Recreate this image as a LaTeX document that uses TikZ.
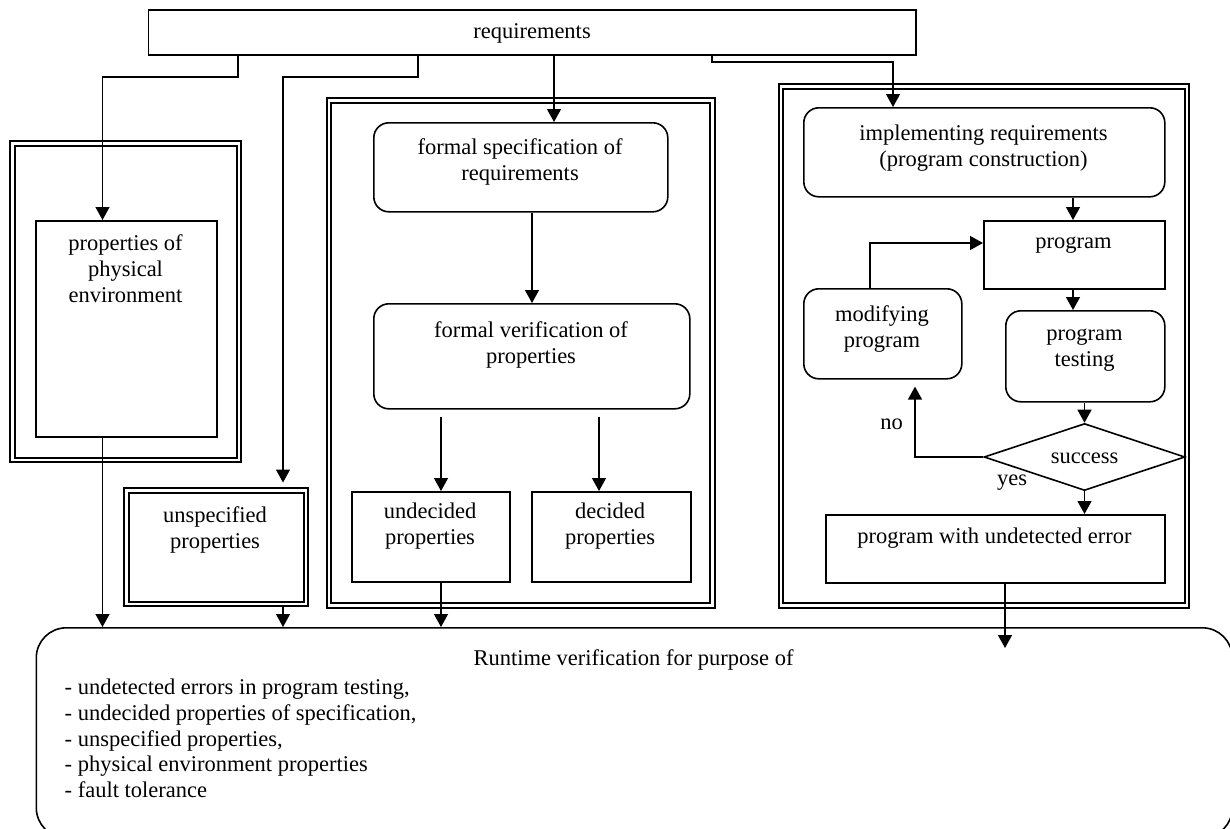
\documentclass[tikz,border=0pt]{standalone}
\usepackage{fontspec}
\setmainfont{Liberation Serif}
\usetikzlibrary{arrows.meta,shapes.geometric,calc}
\begin{document}
\begin{tikzpicture}[x=1pt,y=-1pt,
  every node/.style={font=\fontsize{22.5}{26}\selectfont},
  box/.style={draw,line width=1.6pt,inner sep=0pt,anchor=north west},
  rbox/.style={box,rounded corners=15pt},
  frame/.style={draw,line width=2pt,double=white,double distance=2.2pt,inner sep=0pt,anchor=north west},
  txt/.style={align=center,inner sep=0pt},
  conn/.style={line width=1.3pt},
  arr/.style={conn,-{Triangle[width=14pt,length=13pt]}},
]
\useasboundingbox (0,0) rectangle (1230,828);
\clip (0,0) rectangle (1230,828);

% source of all requirements
\node[box,minimum width=767.5,minimum height=45] (req) at (147.5,9) {};
\node[txt] at (532,33) {requirements};

% physical environment
\node[frame,minimum width=226.5,minimum height=316.5] (fl) at (11.5,142.5) {};
\node[box,minimum width=181,minimum height=216] (phys) at (35,220) {};
\node[txt] at (125.5,269) {properties of\\physical\\environment};

% unspecified properties
\node[frame,minimum width=179.5,minimum height=113.5] (uf) at (125.5,489.5) {};
\node[txt] at (215,530) {unspecified\\properties};

% formal specification and verification
\node[frame,minimum width=383.5,minimum height=505] (fm) at (328,99.5) {};
\node[rbox,minimum width=294,minimum height=89] (fspec) at (373,122) {};
\node[txt] at (520,162) {formal specification of\\requirements};
\node[rbox,minimum width=316,minimum height=105] (fver) at (373,303) {};
\node[txt] at (531,344.5) {formal verification of\\properties};
\node[box,minimum width=158,minimum height=90] (undec) at (351,491) {};
\node[txt] at (430,526.5) {undecided\\properties};
\node[box,minimum width=159,minimum height=90] (dec) at (531,491) {};
\node[txt] at (610,526.5) {decided\\properties};

% implementation and testing loop
\node[frame,minimum width=406,minimum height=519] (fr) at (780,85.5) {};
\node[rbox,minimum width=361,minimum height=89] (impl) at (803,107) {};
\node[txt] at (983.5,148.5) {implementing requirements\\(program construction)};
\node[box,minimum width=181,minimum height=68] (prog) at (983,220) {};
\node[txt] at (1073.5,245) {program};
\node[rbox,minimum width=158,minimum height=90] (modif) at (803,288) {};
\node[txt] at (882,328.5) {modifying\\program};
\node[rbox,minimum width=159,minimum height=91] (test) at (1005,310) {};
\node[txt] at (1084.5,350.5) {program\\testing};
\node[draw,diamond,line width=1.6pt,minimum width=201,minimum height=67,inner sep=0pt] (succ) at (1084.5,457) {};
\node[txt] at (1084.5,458) {success};
\node[box,minimum width=339,minimum height=68] (perr) at (825,514) {};
\node[txt] at (994.5,538) {program with undetected error};

% runtime verification
\node[box,rounded corners=30pt,minimum width=1196,minimum height=210] (rt) at (35.5,627) {};
\node[txt] at (633.5,660) {Runtime verification for purpose of};
\node[txt,align=left,anchor=west,font=\fontsize{22.5}{25.75}\selectfont] at (64.5,738.5)
  {- undetected errors in program testing,\\- undecided properties of specification,\\- unspecified properties,\\- physical environment properties\\- fault tolerance};

% connectors from requirements
\draw[arr] (req.south -| 238,0) |- (102.5,77) -- (phys.north -| 102.5,0);
\draw[arr,shorten >=7pt] (req.south -| 418,0) |- (283,77) -- (uf.north -| 283,0);
\draw[arr] (req.south -| 554,0) -- (fspec.north -| 554,0);
\draw[arr] (req.south -| 712,0) |- (893,62) -- (impl.north -| 893,0);

% formal branch
\draw[arr] (fspec.south -| 532,0) -- (fver.north -| 532,0);
\draw[arr,shorten <=7pt] (fver.south -| 441,0) -- (undec.north -| 441,0);
\draw[arr,shorten <=7pt] (fver.south -| 599,0) -- (dec.north -| 599,0);

% into runtime verification
\draw[arr] (phys.south -| 102.5,0) -- (rt.north -| 102.5,0);
\draw[arr] (uf.south -| 283,0) -- (rt.north -| 283,0);
\draw[arr] (undec.south -| 441,0) -- (rt.north -| 441,0);
\draw[arr] (perr.south -| 1005,0) -- ($(rt.north -| 1005,0)+(0,21)$);

% implementation branch
\draw[arr] (impl.south -| 1073,0) -- (prog.north -| 1073,0);
\draw[arr] (prog.south -| 1073,0) -- (test.north -| 1073,0);
\draw[arr] (test.south -| 1084.5,0) -- (succ.north);
\draw[arr] (succ.south) -- (perr.north -| 1084.5,0);
\draw[arr] (succ.west) -| ($(modif.south -| 915,0)+(0,7)$);
\draw[arr] (modif.north -| 870,0) |- (prog.west |- 0,243);
\node[txt] at (891.5,424) {no};
\node[txt] at (1012,483) {yes};
\end{tikzpicture}
\end{document}
